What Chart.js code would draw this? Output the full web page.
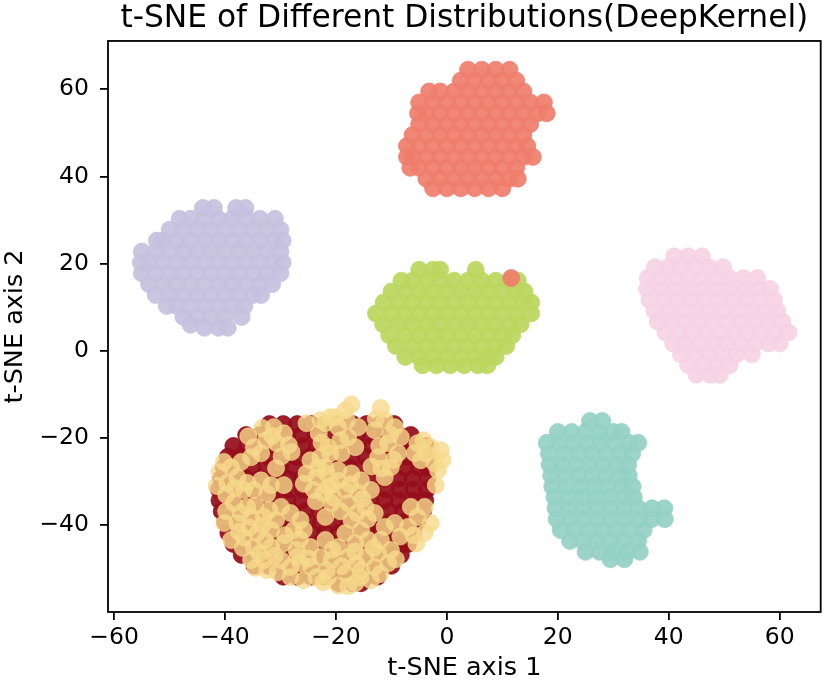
<!DOCTYPE html>
<html>
<head>
<meta charset="utf-8">
<script src="https://cdn.jsdelivr.net/npm/chart.js@4.4.1/dist/chart.umd.min.js"></script>
<style>
  html, body { margin: 0; padding: 0; background: #fff; }
  #wrap { width: 830px; height: 686px; }
</style>
</head>
<body>
<div id="wrap"><canvas id="chart" width="830" height="686"></canvas></div>
<script>
// t-SNE points. Cluster rows are [y, x, x, x ...]
const xTicks = [-60, -40, -20, 0, 20, 40, 60];
const yTicks = [-40, -20, 0, 20, 40, 60];

const salmonRows = [
  [64.5, 3.8, 6.3, 8.8, 11.3],
  [62, 2.5, 5, 7.5, 10, 12.5],
  [59.5, -3.2, -1.2, 1.3, 3.8, 6.3, 8.8, 11.3, 13.8],
  [57, -5, -2.5, 0, 2.5, 5, 7.5, 10, 12.5, 15, 17.5],
  [54.5, -5.2, -3.7, -1.2, 1.3, 3.8, 6.3, 8.8, 11.3, 13.8, 16.3, 18],
  [52, -5, -2.5, 0, 2.5, 5, 7.5, 10, 12.5, 15],
  [49.5, -6.2, -3.7, -1.2, 1.3, 3.8, 6.3, 8.8, 11.3, 13.8],
  [47, -7.2, -5, -2.5, 0, 2.5, 5, 7.5, 10, 12.5, 14.5],
  [44.5, -7.2, -6.2, -3.7, -1.2, 1.3, 3.8, 6.3, 8.8, 11.3, 13.8, 15.5],
  [42, -6.6, -5, -2.5, 0, 2.5, 5, 7.5, 10, 12.5],
  [39.5, -3.7, -1.2, 1.3, 3.8, 6.3, 8.8, 11.3, 12.8],
  [37.3, -2.5, 0, 2.5, 5, 7.5, 10],
  [16.7, 11.6]
];

const lavenderRows = [
  [32.8, -44, -42, -38, -36.3],
  [30.3, -48.2, -46.2, -43.7, -41.2, -38.7, -36.2, -33.7, -31],
  [27.8, -50, -47.5, -45, -42.5, -40, -37.5, -35, -32.5, -30],
  [25.3, -52.3, -51.2, -48.7, -46.2, -43.7, -41.2, -38.7, -36.2, -33.7, -31.2, -29.6],
  [22.8, -55, -52.5, -50, -47.5, -45, -42.5, -40, -37.5, -35, -32.5, -30],
  [20.3, -55.2, -53.7, -51.2, -48.7, -46.2, -43.7, -41.2, -38.7, -36.2, -33.7, -31.2, -29.6],
  [17.8, -55, -52.5, -50, -47.5, -45, -42.5, -40, -37.5, -35, -32.5, -30],
  [15.3, -53.7, -51.2, -48.7, -46.2, -43.7, -41.2, -38.7, -36.2, -33.7, -31.5],
  [12.8, -52.5, -50, -47.5, -45, -42.5, -40, -37.5, -35, -33.5],
  [10.3, -50.5, -48.7, -46.2, -43.7, -41.2, -38.7, -36.5],
  [7.8, -47.5, -45, -42.5, -40, -37],
  [6, -46.2],
  [5.3, -43.7, -41.2, -39.5]
];

const greenRows = [
  [18.6, -5, -2.5, -1.2, 5.2],
  [16.1, -8.2, -6.2, -3.7, -1.2, 1.3, 3.8, 6.3, 8.8, 11.3, 12.8],
  [13.6, -10, -7.5, -5, -2.5, 0, 2.5, 5, 7.5, 10, 12.5, 14],
  [11.1, -11.4, -8.7, -6.2, -3.7, -1.2, 1.3, 3.8, 6.3, 8.8, 11.3, 13.8, 15.2],
  [8.6, -12.8, -10, -7.5, -5, -2.5, 0, 2.5, 5, 7.5, 10, 12.5, 15.2],
  [6.1, -11.5, -8.7, -6.2, -3.7, -1.2, 1.3, 3.8, 6.3, 8.8, 11.3, 13.3],
  [3.6, -10.4, -7.5, -5, -2.5, 0, 2.5, 5, 7.5, 10, 11.8],
  [1.1, -9.2, -6.2, -3.7, -1.2, 1.3, 3.8, 6.3, 8.8, 10.7],
  [-1.4, -7.5, -5, -2.5, 0, 2.5, 5, 7.5, 8.8],
  [-3.3, -4.4, -1.9, 0.6, 3.1, 5.6, 7.3]
];

const pinkRows = [
  [21.7, 41, 43.5, 46],
  [19.2, 37.5, 39.8, 42.3, 44.8, 47.3, 49.8],
  [16.7, 36.2, 38.5, 41, 43.5, 46, 48.5, 51, 53.5, 56],
  [14.2, 36.1, 38.6, 41.1, 43.6, 46.1, 48.6, 51.1, 53.6, 56.1, 58.3],
  [11.7, 36.5, 39, 41.5, 44, 46.5, 49, 51.5, 54, 56.5, 59],
  [9.2, 37.4, 39.9, 42.4, 44.9, 47.4, 49.9, 52.4, 54.9, 57.4, 59.6],
  [6.7, 38, 40.5, 43, 45.5, 48, 50.5, 53, 55.5, 58, 60.5],
  [4.2, 39.4, 41.7, 44.2, 46.7, 49.2, 51.7, 54.2, 56.7, 59.2, 61.6],
  [1.7, 40.8, 43, 45.5, 48, 50.5, 53, 55.5, 58, 60],
  [-0.8, 42.2, 44.7, 47.2, 49.7, 52.2, 55],
  [-3.3, 43.5, 46, 48.5, 51],
  [-5.5, 45, 47.5, 49.2]
];

const tealRows = [
  [-16.1, 25.8, 28],
  [-18.6, 20, 22.5, 25, 27.5, 30, 31.5],
  [-21.1, 18, 20.3, 22.8, 25.3, 27.8, 30.3, 32.8, 34.5],
  [-23.6, 18.4, 21.2, 23.7, 26.2, 28.7, 31.2, 33.4],
  [-26.1, 18.5, 20.8, 23.3, 25.8, 28.3, 30.8, 32.7],
  [-28.6, 18.8, 21.2, 23.7, 26.2, 28.7, 31.2, 32.8],
  [-31.1, 19, 21.5, 24, 26.5, 29, 31.5, 33.5],
  [-33.6, 19.4, 21.9, 24.4, 26.9, 29.4, 31.9, 33.7],
  [-36.1, 19.6, 22, 24.5, 27, 29.5, 32, 34.5, 37, 39.2],
  [-38.6, 19.8, 22.2, 24.7, 27.2, 29.7, 32.2, 34.7, 36.9, 39.3],
  [-41.1, 20.5, 23, 25.5, 28, 30.5, 33, 35.5],
  [-43.6, 22.2, 24.5, 27, 29.5, 32, 34.5],
  [-46.1, 25, 27.5, 30, 32.5, 34.8],
  [-47.8, 29.5, 32]
];

const darkRedRows = [
  [-16.8, -32, -29.5, -27, -24.5, -22, -19.5, -17, -14.5, -12, -9.5],
  [-19.3, -36.2, -33.7, -31.2, -28.7, -26.2, -23.7, -21.2, -18.7, -16.2, -13.7, -11.2, -8.7, -6.5],
  [-21.8, -38.5, -36, -33.5, -31, -28.5, -26, -23.5, -21, -18.5, -16, -13.5, -11, -8.5, -6, -3.8],
  [-24.3, -39.5, -37.2, -34.7, -32.2, -29.7, -27.2, -24.7, -22.2, -19.7, -17.2, -14.7, -12.2, -9.7, -7.2, -4.7, -3.4],
  [-26.8, -40.2, -37.5, -35, -32.5, -30, -27.5, -25, -22.5, -20, -17.5, -15, -12.5, -10, -7.5, -5, -3.4],
  [-29.3, -40.7, -38.7, -36.2, -33.7, -31.2, -28.7, -26.2, -23.7, -21.2, -18.7, -16.2, -13.7, -11.2, -8.7, -6.2, -3.5],
  [-31.8, -41.1, -38.5, -36, -33.5, -31, -28.5, -26, -23.5, -21, -18.5, -16, -13.5, -11, -8.5, -6, -3.6],
  [-34.3, -41, -38.7, -36.2, -33.7, -31.2, -28.7, -26.2, -23.7, -21.2, -18.7, -16.2, -13.7, -11.2, -8.7, -6.2, -3.9],
  [-36.8, -40.6, -38, -35.5, -33, -30.5, -28, -25.5, -23, -20.5, -18, -15.5, -13, -10.5, -8, -5.5, -4.3],
  [-39.3, -40, -37.7, -35.2, -32.7, -30.2, -27.7, -25.2, -22.7, -20.2, -17.7, -15.2, -12.7, -10.2, -7.7, -5.4],
  [-41.8, -39.4, -37, -34.5, -32, -29.5, -27, -24.5, -22, -19.5, -17, -14.5, -12, -9.5, -7, -6],
  [-44.3, -38.5, -35.7, -33.2, -30.7, -28.2, -25.7, -23.2, -20.7, -18.2, -15.7, -13.2, -10.7, -8.2, -7],
  [-46.8, -37, -34.5, -32, -29.5, -27, -24.5, -22, -19.5, -17, -14.5, -12, -9.5, -8.3],
  [-49.3, -34.7, -32.2, -29.7, -27.2, -24.7, -22.2, -19.7, -17.2, -14.7, -12.2, -10],
  [-51.8, -29.5, -27, -24.5, -22, -19.5, -17, -14.5, -12.5],
  [-53.3, -19.5, -17, -15.5]
];

// yellow class is scattered through the dark red one: [x, y]
const yellowPoints = [
  [-33.3,-17.7],[-31.2,-17.5],[-29.4,-18.9],[-32.6,-20.5],[-34.8,-22.1],[-30.7,-21.2],[-28.5,-21.6],[-28.0,-23.2],
  [-31.5,-19.5],[-33.5,-23.5],[-29.8,-24.2],[-35.8,-19.6],
  [-41.0,-27.8],[-38.9,-26.7],[-37.1,-25.5],[-35.3,-24.4],[-37.8,-29.0],[-39.6,-30.3],[-36.0,-30.3],[-33.5,-29.7],
  [-31.7,-30.8],[-34.8,-31.9],[-36.6,-31.9],[-30.8,-26.9],[-29.4,-30.8],
  [-40.2,-25.5],[-39.8,-33.0],[-38.2,-31.5],[-32.4,-32.8],[-41.5,-31.0],
  [-38.4,-34.9],[-36.0,-35.8],[-40.1,-39.5],[-37.8,-39.5],[-35.3,-38.1],[-33.0,-38.1],[-29.9,-35.8],[-28.2,-37.2],
  [-26.4,-38.8],[-31.7,-41.1],[-34.2,-41.8],[-36.6,-42.8],[-38.9,-43.4],[-34.8,-45.0],[-31.7,-45.0],[-29.4,-44.1],
  [-27.6,-41.1],[-25.8,-41.1],[-33.0,-48.0],[-35.3,-48.0],[-29.9,-48.0],[-32.4,-50.3],[-28.2,-49.6],
  [-39.8,-36.8],[-37.2,-37.2],[-34.5,-35.5],[-32.0,-36.5],[-30.8,-38.8],[-33.2,-40.0],[-37.5,-41.5],[-35.6,-40.5],
  [-29.2,-42.3],[-32.8,-43.5],[-36.8,-45.2],[-31.0,-47.0],[-33.8,-46.5],[-27.0,-47.3],[-30.5,-50.8],[-34.5,-49.8],[-26.5,-43.2],
  [-24.6,-25.1],[-22.8,-24.4],[-21.0,-23.5],[-25.3,-28.1],[-23.5,-29.0],[-21.7,-28.1],[-24.0,-31.9],[-22.3,-32.6],[-20.5,-33.6],
  [-23.2,-26.8],[-20.8,-30.8],[-25.8,-30.5],[-23.6,-34.5],
  [-25.3,-16.6],[-22.8,-15.9],[-21.0,-15.2],
  [-27.1,-45.7],[-24.6,-45.0],[-22.8,-47.3],[-28.2,-51.9],[-25.8,-52.6],[-23.5,-51.9],[-21.7,-50.3],[-26.4,-48.7],[-22.3,-53.1],
  [-17.2,-12.3],[-18.3,-13.6],[-20.1,-15.2],[-21.9,-16.6],[-23.1,-18.9],[-19.6,-17.5],[-17.8,-19.8],[-16.5,-22.1],
  [-19.0,-23.5],[-21.4,-22.1],[-16.0,-17.5],[-19.2,-20.5],[-22.6,-21.0],[-18.0,-16.0],
  [-11.9,-13.1],[-11.2,-15.9],[-9.4,-17.5],[-8.3,-19.8],[-13.0,-18.2],[-10.6,-21.2],[-8.8,-23.5],[-12.4,-24.4],
  [-10.1,-26.7],[-11.2,-29.0],[-12.8,-15.6],[-10.2,-19.2],[-12.2,-21.8],[-9.6,-25.0],[-11.8,-27.0],[-13.6,-26.5],
  [-5.3,-21.2],[-2.9,-22.1],[-1.1,-22.8],[-4.7,-25.1],[-2.2,-25.8],[-5.8,-23.5],[-2.0,-30.8],
  [-3.8,-23.6],[-0.8,-25.0],[-4.2,-20.5],[-1.6,-27.4],
  [-21.9,-26.7],[-19.6,-27.4],[-17.2,-28.1],[-15.5,-29.7],[-21.4,-31.3],[-18.3,-31.9],[-16.0,-32.6],[-13.7,-31.9],
  [-20.8,-34.9],[-17.8,-34.9],[-14.7,-35.8],[-13.0,-37.2],[-21.9,-38.1],
  [-19.6,-29.8],[-17.4,-30.6],[-15.2,-34.0],[-19.2,-36.8],[-16.2,-37.2],[-14.3,-38.6],
  [-6.5,-35.8],[-4.0,-35.8],[-5.3,-38.1],[-2.9,-39.5],[-9.4,-39.5],[-7.0,-40.4],[-11.2,-40.4],[-4.0,-41.8],
  [-6.0,-42.3],[-8.4,-42.6],[-5.5,-44.2],
  [-17.2,-38.8],[-15.5,-41.1],[-18.3,-41.8],[-21.9,-43.4],[-19.6,-45.0],[-16.5,-44.1],[-14.2,-43.4],[-11.9,-43.4],
  [-20.8,-48.0],[-17.8,-47.3],[-14.7,-47.3],[-12.4,-46.4],[-10.1,-45.7],[-21.4,-51.9],[-18.3,-51.0],[-15.5,-50.3],
  [-13.0,-49.6],[-10.6,-48.7],[-19.6,-53.8],[-16.5,-53.3],[-13.7,-52.6],
  [-16.6,-46.0],[-13.2,-45.2],[-19.0,-49.4],[-16.3,-48.9],[-12.0,-51.2],[-9.2,-47.8],[-20.6,-45.6],[-15.6,-52.0],
  [-17.8,-54.0],[-24.5,-49.5],[-25.0,-47.6]
];

function fromRows(rows) {
  const pts = [];
  rows.forEach(r => {
    for (let i = 1; i < r.length; i++) pts.push({ x: r[i], y: r[0] });
  });
  return pts;
}

function fromPairs(pairs) {
  return pairs.map(p => ({ x: p[0], y: p[1] }));
}

function cluster(data, rgb, alpha, order) {
  const c = 'rgba(' + rgb + ',' + alpha + ')';
  return { data, backgroundColor: c, borderColor: c, order };
}

const fmt = v => (v < 0 ? '\u2212' + Math.abs(v) : String(v));

// matplotlib draws a box round the axes
const frame = {
  id: 'frame',
  afterDraw(chart) {
    const { ctx, chartArea: a } = chart;
    ctx.save();
    ctx.strokeStyle = '#000';
    ctx.lineWidth = 1.8;
    ctx.strokeRect(a.left, a.top, a.right - a.left, a.bottom - a.top);
    ctx.restore();
  }
};

const font = 'DejaVu Sans';

new Chart(document.getElementById('chart'), {
  type: 'scatter',
  data: {
    datasets: [
      cluster(fromRows(lavenderRows), '198,193,223', 0.93, 6),
      cluster(fromRows(greenRows), '187,215,95', 0.93, 5),
      cluster(fromRows(pinkRows), '246,211,228', 0.93, 4),
      cluster(fromRows(tealRows), '148,209,197', 0.93, 3),
      cluster(fromRows(darkRedRows), '150,14,27', 0.93, 2),
      cluster(fromRows(salmonRows), '239,126,109', 0.93, 1),
      cluster(fromPairs(yellowPoints), '246,217,139', 0.8, 0)
    ]
  },
  options: {
    responsive: false,
    animation: false,
    devicePixelRatio: 1,
    events: [],
    layout: { padding: { left: 0, right: 4, top: 0, bottom: 0 } },
    elements: { point: { radius: 8.5, borderWidth: 0.8, hoverRadius: 8.5 } },
    plugins: {
      legend: { display: false },
      tooltip: { enabled: false },
      title: {
        display: true,
        fullSize: false,
        text: 't-SNE of Different Distributions(DeepKernel)',
        color: '#000',
        font: { family: font, size: 31.3, weight: 'normal' },
        padding: { top: 0, bottom: 3.4 }
      }
    },
    scales: {
      x: {
        type: 'linear',
        min: -61.1,
        max: 67.4,
        afterBuildTicks: s => { s.ticks = xTicks.map(v => ({ value: v })); },
        afterFit: s => { s.height = 74; },
        grid: { drawOnChartArea: false, drawTicks: true, tickLength: 8, color: '#000', lineWidth: 1.8 },
        border: { display: false },
        ticks: { color: '#000', font: { family: font, size: 23.5 }, padding: 4, maxRotation: 0, callback: fmt },
        title: { display: true, text: 't-SNE axis 1', color: '#000', font: { family: font, size: 25.5 }, padding: { top: 0, bottom: 2 } }
      },
      y: {
        type: 'linear',
        min: -59.9,
        max: 71.1,
        afterBuildTicks: s => { s.ticks = yTicks.map(v => ({ value: v })); },
        afterFit: s => { s.width = 108; },
        grid: { drawOnChartArea: false, drawTicks: true, tickLength: 8, color: '#000', lineWidth: 1.8 },
        border: { display: false },
        ticks: { color: '#000', font: { family: font, size: 23.5 }, padding: 11, callback: fmt },
        title: { display: true, text: 't-SNE axis 2', color: '#000', font: { family: font, size: 25.5 }, padding: { top: 0, bottom: 0 } }
      }
    }
  },
  plugins: [frame]
});
</script>
</body>
</html>
